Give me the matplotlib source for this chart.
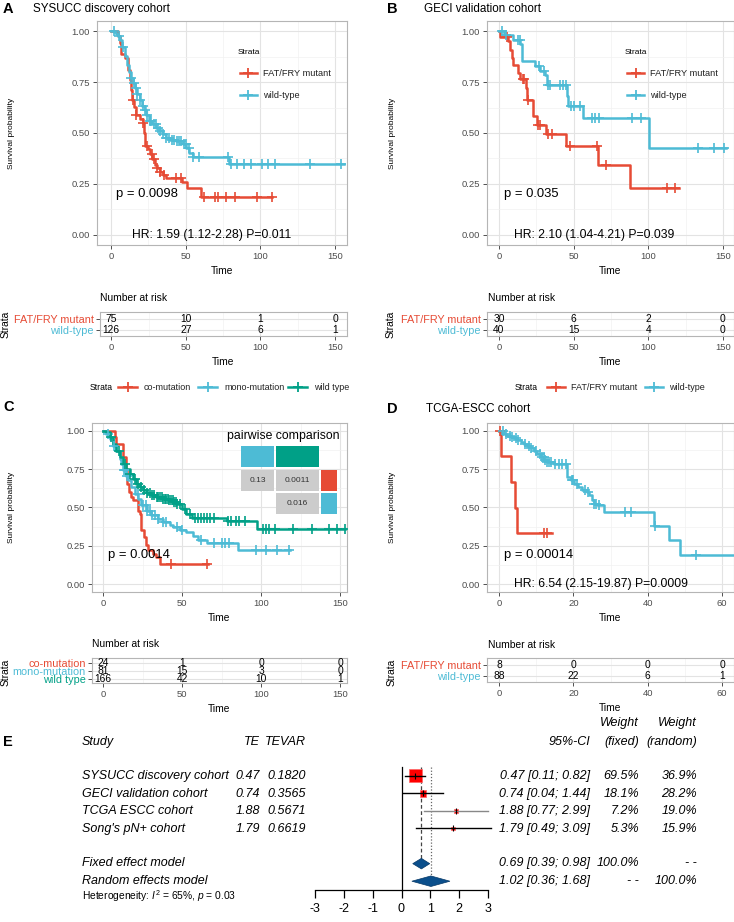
import numpy as np
import matplotlib.pyplot as plt
from matplotlib.lines import Line2D
from matplotlib.patches import Rectangle, Polygon

plt.rcParams['font.family'] = ['Liberation Sans', 'DejaVu Sans']
plt.rcParams['mathtext.fontset'] = 'custom'
plt.rcParams['mathtext.rm'] = 'Liberation Sans'
plt.rcParams['mathtext.it'] = 'Liberation Sans:italic'
plt.rcParams['axes.unicode_minus'] = False

RED, CYAN, GREEN = '#E64B35', '#4DBBD5', '#00A087'

# ---- panel A: SYSUCC ----
a_mut_t = [0, 4.5, 5.6, 6.7, 9, 11.2, 12.3, 13.4, 14.1, 15, 16.3, 19, 21.3, 21.9, 22.8, 24.6,
           26.2, 27.5, 29.1, 30.7, 32.5, 34.7, 36.9, 47.7, 50.8, 60, 108]
a_mut_s = [1.0, 0.975, 0.94, 0.89, 0.87, 0.81, 0.76, 0.71, 0.66, 0.63, 0.59, 0.57, 0.55, 0.50,
           0.435, 0.42, 0.395, 0.37, 0.345, 0.33, 0.31, 0.296, 0.28, 0.26, 0.23, 0.187, 0.187]
a_mut_c = [14.5, 16.5, 21.3, 24, 27.2, 29, 31, 33, 35.5, 43.6, 47, 62, 69.4, 71.6, 77, 82.8, 97.4, 107.5]
a_wt_t = [0, 2.2, 3.4, 4.5, 6, 7.4, 9, 10.5, 11.9, 13, 14.6, 15.7, 17.2, 19, 20.8, 22.4, 23.5,
          25.3, 27.5, 30.2, 32.5, 34.7, 36.9, 39.2, 43.7, 48.1, 50.4, 52.2, 54.8, 79, 156]
a_wt_s = [1.0, 0.995, 0.985, 0.975, 0.956, 0.92, 0.877, 0.836, 0.80, 0.77, 0.746, 0.72, 0.69,
          0.664, 0.635, 0.615, 0.59, 0.558, 0.542, 0.525, 0.509, 0.493, 0.476, 0.468, 0.46,
          0.445, 0.427, 0.40, 0.383, 0.35, 0.35]
a_wt_c = [2, 5, 8, 13, 15, 16.5, 17.5, 19.5, 21, 22.5, 24, 26, 27, 28.5, 30, 31.5, 33, 35, 37, 39,
          40.5, 42, 44, 45.5, 47, 48.5, 50, 52, 55, 59, 78, 80, 84, 89, 94, 101, 105, 110, 133, 154]
a_risk = [[75, 10, 1, 0], [126, 27, 6, 1]]

# ---- panel B: GECI ----
b_mut_t = [0, 0.7, 6.3, 7.4, 8.5, 9.6, 13, 14, 18.1, 18.8, 22.6, 25.7, 31.5, 44.9, 66.2, 87.9, 120.3]
b_mut_s = [1, 0.972, 0.951, 0.91, 0.869, 0.836, 0.795, 0.763, 0.72, 0.664, 0.583, 0.54, 0.493,
           0.435, 0.345, 0.229, 0.229]
b_mut_c = [5.1, 16.3, 17, 19.7, 26.4, 27.5, 33, 35.3, 47.6, 65.5, 71.8, 112.5, 118]
b_wt_t = [0, 3.4, 9.6, 14.1, 15.2, 24.1, 27.5, 30.9, 32, 45.4, 46.5, 56.6, 100.2, 152]
b_wt_s = [1, 0.979, 0.959, 0.935, 0.853, 0.828, 0.804, 0.787, 0.738, 0.681, 0.632, 0.574, 0.427, 0.427]
b_wt_c = [2, 5, 13, 14, 27, 30, 33, 34, 41, 43, 45, 48.5, 50, 54, 62, 64, 67, 89, 95, 133, 144, 151]
b_risk = [[30, 6, 2, 0], [40, 15, 4, 0]]

# ---- panel C: co-mutation / mono-mutation / wild type ----
c_co_t = [0, 7.4, 8.5, 12.7, 14.4, 15.2, 16.5, 18, 19, 21.8, 23.2, 24.3, 25.8, 27, 28.5, 31.7,
          33.8, 35.9, 66.6]
c_co_s = [1, 0.957, 0.914, 0.827, 0.752, 0.654, 0.6, 0.568, 0.546, 0.48, 0.46, 0.352, 0.309,
          0.255, 0.222, 0.2, 0.18, 0.13, 0.13]
c_co_c = [43.3, 65.5]
c_mono_t = [0, 2.1, 4.2, 6.3, 8.5, 10.6, 11.6, 12.7, 14.4, 15.8, 18, 20.1, 22.2, 24.3, 27.5, 30.6,
            34.9, 38, 42.3, 44.4, 48.6, 52.8, 57, 60.2, 65.5, 85.6, 118.3]
c_mono_s = [1, 0.978, 0.945, 0.9, 0.87, 0.816, 0.784, 0.745, 0.708, 0.676, 0.633, 0.59, 0.557,
            0.514, 0.48, 0.449, 0.428, 0.406, 0.389, 0.374, 0.356, 0.341, 0.313, 0.287, 0.266,
            0.222, 0.222]
c_mono_c = [3, 7, 13, 14, 15, 22, 25, 27, 28, 30, 31, 33, 35, 38, 40, 47, 50, 62, 70, 75, 77, 80,
            97, 103, 110, 118]
c_wt_t = [0, 2.1, 4.2, 6.3, 8.5, 10.6, 12.7, 14.8, 16.9, 19, 21.1, 23.2, 25.4, 27.5, 30.6, 33.8,
          38, 41.2, 44.4, 46.5, 49.7, 52.8, 56, 78.2, 97.2, 153.2]
c_wt_s = [1, 0.99, 0.957, 0.914, 0.87, 0.827, 0.784, 0.752, 0.719, 0.687, 0.654, 0.633, 0.611,
          0.594, 0.579, 0.568, 0.557, 0.546, 0.536, 0.52, 0.492, 0.46, 0.434, 0.413, 0.363, 0.363]
c_wt_c = [5, 10, 14, 17, 20, 22, 24, 26, 28, 30, 31, 32, 34, 35, 36, 37, 38, 39, 40, 41, 42, 43,
          44, 45, 46, 47, 49, 52, 55, 58, 60, 62, 64, 66, 68, 70, 79, 81, 84, 86, 90, 101, 103,
          105, 109, 120, 132, 143, 148, 153]
c_risk = [[24, 1, 0, 0], [81, 15, 3, 0], [166, 42, 10, 1]]
pair_p = ['0.13', '0.0011', '0.016']

# ---- panel D: TCGA-ESCC ----
d_mut_t = [0, 0.6, 3.3, 4.3, 4.9, 14.3]
d_mut_s = [1, 0.832, 0.665, 0.499, 0.333, 0.333]
d_mut_c = [0.3, 12.1, 13]
d_wt_t = [0, 1.3, 2.2, 3.1, 4, 4.9, 5.8, 6.7, 7.6, 8.5, 9.4, 10.3, 11.2, 12.1, 13, 14.8, 18.4,
          19.4, 20.3, 21.2, 22.4, 23.7, 24.2, 25.1, 25.5, 26.4, 28.2, 41.8, 45.7, 48.8, 63]
d_wt_s = [1, 0.978, 0.968, 0.961, 0.952, 0.94, 0.924, 0.914, 0.903, 0.888, 0.87, 0.849, 0.827,
          0.81, 0.795, 0.784, 0.698, 0.676, 0.654, 0.633, 0.611, 0.6, 0.579, 0.546, 0.525, 0.514,
          0.471, 0.378, 0.287, 0.188, 0.188]
d_wt_c = [1, 2, 3, 3.5, 4.5, 5, 7, 8, 8.5, 10, 11, 11.5, 12, 12.5, 13, 13.5, 14, 15, 16, 17, 18,
          19.5, 20, 21, 23, 24, 25.5, 26, 27, 34, 35.5, 42, 53]
d_risk = [[8, 0, 0, 0], [88, 22, 6, 1]]

# ---- panel E: meta-analysis ----
studies = ["SYSUCC discovery cohort", "GECI validation cohort", "TCGA ESCC cohort", "Song's pN+ cohort"]
te = [0.47, 0.74, 1.88, 1.79]
tevar = [0.1820, 0.3565, 0.5671, 0.6619]
ci_lo = [0.11, 0.04, 0.77, 0.49]
ci_hi = [0.82, 1.44, 2.99, 3.09]
w_fixed = [69.5, 18.1, 7.2, 5.3]
w_random = [36.9, 28.2, 19.0, 15.9]
fixed_est = [0.69, 0.39, 0.98]
random_est = [1.02, 0.36, 1.68]

W, H = 734, 922
fig = plt.figure(figsize=(W / 100, H / 100), dpi=100)


def add_ax(l, t, r, b):
    return fig.add_axes([l / W, 1 - b / H, (r - l) / W, (b - t) / H])


def ftext(x, y, s, **kw):
    kw.setdefault('va', 'center')
    return fig.text(x / W, 1 - y / H, s, **kw)


def key(x0, x1, y, color):
    yy = 1 - y / H
    fig.add_artist(Line2D([x0 / W, x1 / W], [yy, yy], color=color, lw=1.8))
    fig.add_artist(Line2D([(x0 + x1) / 2 / W], [yy], marker='+', ms=7, mew=1.3, color=color))


def rect(l, t, r, b, color):
    fig.add_artist(Rectangle((l / W, 1 - b / H), (r - l) / W, (b - t) / H,
                             transform=fig.transFigure, color=color, lw=0))


def style(ax, xlim, xmaj, xmin):
    ax.set_xlim(xlim)
    ax.set_xticks(xmaj)
    ax.set_xticks(xmin, minor=True)
    ax.grid(which='major', color='#E3E3E3', lw=0.8)
    ax.grid(which='minor', color='#F1F1F1', lw=0.5)
    ax.set_axisbelow(True)
    ax.tick_params(which='minor', length=0)
    ax.tick_params(which='major', length=3, width=0.6, color='#333333',
                   labelsize=6.8, labelcolor='#4D4D4D', pad=2)
    for s in ax.spines.values():
        s.set_color('#B5B5B5')
        s.set_linewidth(0.8)


def km_axes(l, t, r, b, xlim, xmaj, xmin):
    ax = add_ax(l, t, r, b)
    style(ax, xlim, xmaj, xmin)
    ax.set_ylim(-0.05, 1.05)
    ax.set_yticks([0, 0.25, 0.5, 0.75, 1])
    ax.set_yticklabels(['0.00', '0.25', '0.50', '0.75', '1.00'])
    ax.set_yticks([0.125, 0.375, 0.625, 0.875], minor=True)
    return ax


def draw_km(ax, times, surv, cens, color):
    times = np.asarray(times)
    surv = np.asarray(surv)
    ax.step(times, surv, where='post', color=color, lw=1.8, zorder=3)
    idx = np.searchsorted(times, cens, side='right') - 1
    ax.plot(cens, surv[idx], ls='none', marker='+', ms=6.5, mew=1.2, color=color, zorder=4)


def risk_axes(l, t, r, b, xlim, xmaj, xmin, labels, counts, colors, ylim):
    ax = add_ax(l, t, r, b)
    style(ax, xlim, xmaj, xmin)
    n = len(labels)
    ys = np.arange(n, 0, -1)
    for y, row in zip(ys, counts):
        for tt, v in zip(xmaj, row):
            ax.text(tt, y, str(v), ha='center', va='center', fontsize=7.4)
    ax.set_ylim(ylim)
    ax.set_yticks(ys)
    ax.set_yticklabels(labels, fontsize=7.8)
    ax.tick_params(axis='y', pad=1.5)
    for lab, c in zip(ax.get_yticklabels(), colors):
        lab.set_color(c)
    return ax


def inner_legend(x, y, labels, colors):
    ftext(x, y, 'Strata', fontsize=6)
    for i, (lab, c) in enumerate(zip(labels, colors)):
        yy = y + 20 + 22 * i
        key(x + 2, x + 19, yy, c)
        ftext(x + 25, yy, lab, fontsize=6.7, color='#222222')


t150 = ([0, 50, 100, 150], [25, 75, 125])
t60 = ([0, 20, 40, 60], [10, 30, 50])
two = ['FAT/FRY mutant', 'wild-type']

# ---------------- A ----------------
ftext(3, 9, 'A', fontsize=10.5, weight='bold')
ftext(33, 9, 'SYSUCC discovery cohort', fontsize=8.4)
ax = km_axes(97, 21, 347, 245, (-9.5, 158), *t150)
draw_km(ax, a_mut_t, a_mut_s, a_mut_c, RED)
draw_km(ax, a_wt_t, a_wt_s, a_wt_c, CYAN)
ax.text(3, 0.2, 'p = 0.0098', fontsize=9.4, va='center')
ax.text(14, 0.0, 'HR: 1.59 (1.12-2.28) P=0.011', fontsize=8.7, va='center')
inner_legend(238, 53, two, [RED, CYAN])
ftext(12, 133, 'Survival probability', fontsize=6, rotation=90, ha='center')
ftext(222, 271, 'Time', fontsize=7.4, ha='center')
ftext(100, 298, 'Number at risk', fontsize=7.4)
risk_axes(100, 312, 347, 336, (-7.5, 158), *t150, two, a_risk, [RED, CYAN], (0.45, 2.64))
ftext(6, 324, 'Strata', fontsize=7.4, rotation=90, ha='center')
ftext(223, 362, 'Time', fontsize=7.4, ha='center')

# ---------------- B ----------------
ftext(387, 9, 'B', fontsize=10.5, weight='bold')
ftext(424, 9, 'GECI validation cohort', fontsize=8.4)
ax = km_axes(487, 21, 734, 245, (-8, 157.4), *t150)
draw_km(ax, b_mut_t, b_mut_s, b_mut_c, RED)
draw_km(ax, b_wt_t, b_wt_s, b_wt_c, CYAN)
ax.text(3.4, 0.2, 'p = 0.035', fontsize=9.4, va='center')
ax.text(10, 0.0, 'HR: 2.10 (1.04-4.21) P=0.039', fontsize=8.7, va='center')
inner_legend(625, 53, two, [RED, CYAN])
ftext(392, 133, 'Survival probability', fontsize=6, rotation=90, ha='center')
ftext(610, 271, 'Time', fontsize=7.4, ha='center')
ftext(488, 298, 'Number at risk', fontsize=7.4)
risk_axes(487, 312, 734, 336, (-8, 157.4), *t150, two, b_risk, [RED, CYAN], (0.45, 2.64))
ftext(391, 324, 'Strata', fontsize=7.4, rotation=90, ha='center')
ftext(610, 362, 'Time', fontsize=7.4, ha='center')

# legends above C and D
ftext(90, 387, 'Strata', fontsize=6.2)
for (x0, lab, c) in [(118, 'co-mutation', RED), (198, 'mono-mutation', CYAN), (288, 'wild type', GREEN)]:
    key(x0, x0 + 19, 387, c)
    ftext(x0 + 26, 387, lab, fontsize=6.5, color='#222222')
ftext(515, 387, 'Strata', fontsize=6.2)
for (x0, lab, c) in [(547, 'FAT/FRY mutant', RED), (645, 'wild-type', CYAN)]:
    key(x0, x0 + 18, 387, c)
    ftext(x0 + 24, 387, lab, fontsize=6.5, color='#222222')

# ---------------- C ----------------
three = ['co-mutation', 'mono-mutation', 'wild type']
ftext(3, 407, 'C', fontsize=10.5, weight='bold')
ax = km_axes(92, 423, 347, 592, (-7, 154.4), *t150)
draw_km(ax, c_co_t, c_co_s, c_co_c, RED)
draw_km(ax, c_mono_t, c_mono_s, c_mono_c, CYAN)
draw_km(ax, c_wt_t, c_wt_s, c_wt_c, GREEN)
ax.text(3, 0.19, 'p = 0.0014', fontsize=9.4, va='center')
ftext(283, 436, 'pairwise comparison', fontsize=8.8, ha='center')
rect(241, 446, 274, 467, CYAN)
rect(276, 446, 319, 467, GREEN)
rect(241, 470, 274, 491, '#CCCCCC')
rect(276, 470, 319, 491, '#CCCCCC')
rect(321, 470, 337, 491, RED)
rect(276, 493, 319, 514, '#CCCCCC')
rect(321, 493, 337, 514, CYAN)
ftext(257.5, 480.5, pair_p[0], fontsize=6, ha='center', color='#333333')
ftext(297.5, 480.5, pair_p[1], fontsize=6, ha='center', color='#333333')
ftext(297.5, 503.5, pair_p[2], fontsize=6, ha='center', color='#333333')
ftext(12, 507, 'Survival probability', fontsize=6, rotation=90, ha='center')
ftext(219, 618, 'Time', fontsize=7.4, ha='center')
ftext(92, 644, 'Number at risk', fontsize=7.4)
risk_axes(92, 658, 347, 683, (-7, 154.4), *t150, three, c_risk, [RED, CYAN, GREEN], (0.5, 3.63))
ftext(6, 672, 'Strata', fontsize=7.4, rotation=90, ha='center')
ftext(219, 709, 'Time', fontsize=7.4, ha='center')

# ---------------- D ----------------
ftext(387, 409, 'D', fontsize=10.5, weight='bold')
ftext(426, 409, 'TCGA-ESCC cohort', fontsize=8.4)
ax = km_axes(487, 423, 734, 592, (-3.23, 63.2), *t60)
draw_km(ax, d_mut_t, d_mut_s, d_mut_c, RED)
draw_km(ax, d_wt_t, d_wt_s, d_wt_c, CYAN)
ax.text(1.3, 0.19, 'p = 0.00014', fontsize=9.4, va='center')
ax.text(4, 0.0, 'HR: 6.54 (2.15-19.87) P=0.0009', fontsize=8.7, va='center')
ftext(392, 507, 'Survival probability', fontsize=6, rotation=90, ha='center')
ftext(610, 618, 'Time', fontsize=7.4, ha='center')
ftext(488, 645, 'Number at risk', fontsize=7.4)
risk_axes(487, 658, 734, 682, (-3.23, 63.2), *t60, two, d_risk, [RED, CYAN], (0.45, 2.64))
ftext(392, 672, 'Strata', fontsize=7.4, rotation=90, ha='center')
ftext(610, 708, 'Time', fontsize=7.4, ha='center')

# ---------------- E ----------------
ftext(3, 742, 'E', fontsize=10.5, weight='bold')
it = dict(fontsize=9, style='italic')
ftext(82, 742, 'Study', **it)
ftext(260, 742, 'TE', ha='right', **it)
ftext(306, 742, 'TEVAR', ha='right', **it)
ftext(590, 742, '95%-CI', ha='right', **it)
ftext(639, 723, 'Weight', ha='right', **it)
ftext(639, 742, '(fixed)', ha='right', **it)
ftext(697, 723, 'Weight', ha='right', **it)
ftext(697, 742, '(random)', ha='right', **it)

row_y = [776, 793.5, 811, 828.5]
for y, s, e, v, lo, hi, wf, wr in zip(row_y, studies, te, tevar, ci_lo, ci_hi, w_fixed, w_random):
    ftext(82, y, s, **it)
    ftext(260, y, f'{e:.2f}', ha='right', **it)
    ftext(306, y, f'{v:.4f}', ha='right', **it)
    ftext(590, y, f'{e:.2f} [{lo:.2f}; {hi:.2f}]', ha='right', **it)
    ftext(639, y, f'{wf:.1f}%', ha='right', **it)
    ftext(697, y, f'{wr:.1f}%', ha='right', **it)
ftext(82, 863, 'Fixed effect model', **it)
ftext(82, 881, 'Random effects model', **it)
ftext(590, 863, '{:.2f} [{:.2f}; {:.2f}]'.format(*fixed_est), ha='right', **it)
ftext(590, 881, '{:.2f} [{:.2f}; {:.2f}]'.format(*random_est), ha='right', **it)
ftext(639, 863, '100.0%', ha='right', **it)
ftext(697, 863, '- -', ha='right', **it)
ftext(639, 881, '- -', ha='right', **it)
ftext(697, 881, '100.0%', ha='right', **it)
ftext(82, 896, r'Heterogeneity: $I^2$ = 65%, $p$ = 0.03', fontsize=7.4)

axf = add_ax(315, 767, 488, 890)
axf.set_xlim(-3, 3)
axf.set_ylim(6.5, -0.5)
for s in ['top', 'right', 'left']:
    axf.spines[s].set_visible(False)
axf.spines['bottom'].set_linewidth(0.9)
axf.set_yticks([])
axf.set_xticks(range(-3, 4))
axf.tick_params(axis='x', length=6, width=0.9, labelsize=9, pad=3)
axf.patch.set_alpha(0)
rows = np.arange(len(te))
axf.plot([0, 0], [-0.5, 6.5], color='black', lw=0.9, clip_on=False)
axf.plot([fixed_est[0]] * 2, [-0.5, 5.2], color='#444444', lw=0.9, ls=(0, (3, 2)))
axf.plot([random_est[0]] * 2, [-0.5, 5.7], color='#666666', lw=0.9, ls=(0, (1, 1.5)))
side = 13 * 0.72 * np.sqrt(np.array(w_fixed) / max(w_fixed))
axf.scatter(te, rows, s=side ** 2, marker='s', color='#FF0000', edgecolor='#FF6666',
            lw=0.5, zorder=3)
for r, lo, hi in zip(rows, ci_lo, ci_hi):
    col = '#888888' if r == 2 else 'black'
    axf.plot([lo, hi], [r, r], color=col, lw=1.0, zorder=4, clip_on=False)
axf.plot(te, rows, ls='none', marker='|', ms=4, mew=0.8, color='black', zorder=5)
for yy, (m, lo, hi) in zip([5, 6], [fixed_est, random_est]):
    axf.add_patch(Polygon([(lo, yy), (m, yy - 0.3), (hi, yy), (m, yy + 0.3)], closed=True,
                          facecolor='#0B4F8C', edgecolor='#063866', lw=0.5, zorder=3))

fig.savefig('out.png', dpi=100)
